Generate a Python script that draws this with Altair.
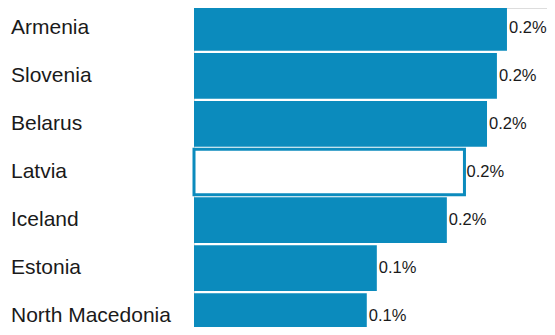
import altair as alt
import pandas as pd

countries = ["Armenia", "Slovenia", "Belarus", "Latvia", "Iceland", "Estonia", "North Macedonia"]
values = [0.240, 0.2323, 0.2247, 0.2074, 0.1939, 0.1402, 0.1325]
highlight = "Latvia"

df = pd.DataFrame({"country": countries, "value": values})
df["label"] = df["value"].map(lambda v: f"{v:.1f}%")

BLUE = "#0b8bbd"
FONT = "Liberation Sans"

y_axis = alt.Axis(
    title=None,
    ticks=False,
    tickSize=0,
    domain=False,
    grid=False,
    labelAlign="left",
    labelPadding=183.5,
    labelFont=FONT,
    labelFontSize=21,
    labelColor="#1a1a1a",
    labelLimit=0,
    labelBaseline="middle",
)
y_scale = alt.Scale(range=[-3, 331], paddingInner=0.05, paddingOuter=0)
x_scale = alt.Scale(domain=[0, 0.2707], nice=False, zero=True)

is_hl = alt.datum.country == highlight

bars = alt.Chart(df).mark_bar(strokeWidth=3).encode(
    y=alt.Y("country:N", sort=countries, scale=y_scale, axis=y_axis),
    x=alt.X("value:Q", scale=x_scale, axis=None),
    fill=alt.condition(is_hl, alt.value("white"), alt.value(BLUE)),
    stroke=alt.condition(is_hl, alt.value(BLUE), alt.value(BLUE)),
    strokeWidth=alt.condition(is_hl, alt.value(3), alt.value(0)),
)

labels = alt.Chart(df).mark_text(
    align="left", baseline="middle", dx=2, font=FONT, fontSize=16.5, color="#1a1a1a"
).encode(
    y=alt.Y("country:N", sort=countries, scale=y_scale, axis=y_axis),
    x=alt.X("value:Q", scale=x_scale, axis=None),
    text="label:N",
)

chart = (
    alt.layer(bars, labels)
    .properties(
        width=353,
        height=319,
        autosize=alt.AutoSizeParams(type="none"),
        padding={"left": 186, "right": 0, "top": 0, "bottom": 0},
    )
    .configure_view(stroke="transparent", strokeWidth=0)
    .configure_axis(grid=False, domain=False)
    .configure(background="white")
)

chart.save("out.html", embed_options={"renderer": "svg", "actions": False})
